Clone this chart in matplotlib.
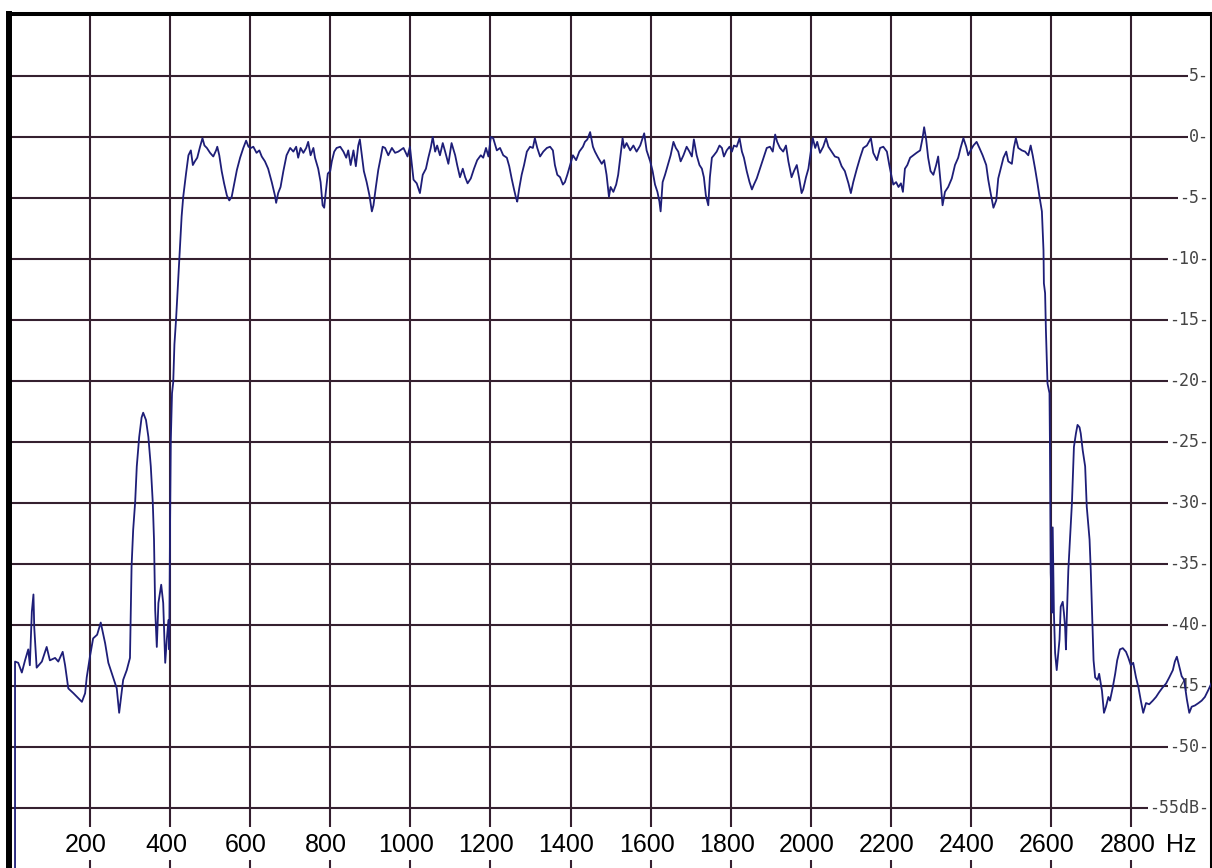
import numpy as np
import matplotlib.pyplot as plt

# Frequency response of an SSB filter (Hz vs dB)

# low stopband + lower skirt
low_hz = [13, 13, 21, 30, 38, 46, 50, 55, 59, 61, 67, 80, 92, 100, 113, 121, 132, 138, 146, 159,
          171, 180, 188, 192, 200, 208, 218, 227, 238, 246, 258, 267, 273, 283, 292, 300, 302, 304,
          308, 313, 317, 323, 329, 333, 340, 346, 352, 357, 360, 363, 367, 371, 378, 383, 388, 392,
          396, 398, 400, 402, 405, 408, 411, 415, 420, 425, 429, 433]
low_db = [-60.0, -43.0, -43.1, -43.9, -42.9, -42.0, -43.3, -38.9, -37.5, -40.2, -43.5, -43.0, -41.8,
          -42.9, -42.7, -43.0, -42.2, -43.3, -45.2, -45.6, -46.0, -46.3, -45.6, -44.3, -42.6, -41.1,
          -40.8, -39.8, -41.5, -43.1, -44.3, -45.2, -47.2, -44.5, -43.7, -42.7, -39.0, -35.2, -32.2,
          -29.9, -27.0, -24.6, -23.0, -22.6, -23.2, -24.6, -27.0, -30.0, -33.0, -38.8, -41.8, -38.2,
          -36.7, -38.2, -43.1, -41.2, -39.6, -42.0, -32.2, -24.8, -21.0, -20.1, -17.0, -15.0, -12.0,
          -9.1, -6.5, -4.9]

# passband
pass_hz = [440, 446, 452, 457, 462, 468, 475, 481, 486, 492, 500, 508, 515, 518, 523, 529, 535, 542,
           548, 554, 560, 567, 575, 583, 590, 596, 602, 608, 616, 623, 629, 637, 645, 654, 662, 665,
           670, 676, 683, 691, 700, 708, 715, 720, 726, 733, 740, 745, 751, 758, 762, 770, 776, 781,
           785, 788, 794, 800, 804, 810, 816, 825, 833, 840, 845, 851, 858, 864, 870, 874, 879, 884,
           891, 898, 904, 908, 914, 920, 926, 931, 937, 945, 954, 962, 970, 983, 993, 999, 1004, 1008,
           1016, 1024, 1031, 1039, 1045, 1051, 1056, 1062, 1067, 1074, 1081, 1087, 1095, 1103, 1112,
           1117, 1124, 1131, 1137, 1143, 1151, 1159, 1167, 1176, 1182, 1189, 1195, 1201, 1207, 1216,
           1224, 1232, 1241, 1247, 1253, 1259, 1264, 1267, 1272, 1278, 1284, 1291, 1299, 1306, 1311,
           1317, 1324, 1332, 1341, 1349, 1356, 1361, 1367, 1374, 1381, 1386, 1392, 1399, 1406, 1414,
           1422, 1431, 1436, 1442, 1449, 1456, 1461, 1469, 1478, 1484, 1490, 1496, 1500, 1507, 1514,
           1519, 1525, 1530, 1534, 1540, 1549, 1557, 1565, 1574, 1584, 1590, 1599, 1605, 1611, 1617,
           1622, 1625, 1630, 1636, 1644, 1650, 1657, 1663, 1669, 1675, 1682, 1690, 1697, 1703, 1708,
           1715, 1722, 1728, 1733, 1738, 1744, 1748, 1753, 1758, 1765, 1772, 1778, 1783, 1790, 1797,
           1803, 1808, 1815, 1822, 1828, 1833, 1840, 1847, 1853, 1858, 1865, 1873, 1882, 1890, 1898,
           1905, 1911, 1916, 1923, 1931, 1938, 1944, 1952, 1958, 1965, 1971, 1977, 1981, 1988, 1994,
           2000, 2005, 2011, 2016, 2023, 2031, 2038, 2044, 2052, 2060, 2069, 2077, 2085, 2094, 2100,
           2106, 2115, 2123, 2131, 2140, 2150, 2156, 2165, 2173, 2181, 2190, 2196, 2202, 2206, 2213,
           2219, 2225, 2230, 2235, 2241, 2248, 2256, 2264, 2273, 2279, 2283, 2288, 2293, 2299, 2306,
           2313, 2318, 2324, 2329, 2335, 2343, 2352, 2360, 2368, 2374, 2381, 2388, 2393, 2399, 2406,
           2414, 2421, 2429, 2438, 2443, 2449, 2456, 2463, 2468, 2474, 2481, 2488, 2493, 2502, 2507,
           2512, 2518, 2527, 2535, 2543, 2549, 2554, 2560, 2566, 2571, 2577, 2581]
pass_db = [-3.0, -1.5, -1.1, -2.3, -2.0, -1.7, -0.8, -0.1, -0.7, -0.9, -1.3, -1.6, -1.1, -0.8, -1.5,
           -2.8, -3.8, -4.8, -5.2, -4.9, -3.9, -2.7, -1.7, -0.9, -0.3, -0.8, -0.9, -0.8, -1.3, -1.1,
           -1.6, -2.0, -2.6, -3.7, -4.8, -5.4, -4.6, -4.1, -2.8, -1.5, -0.9, -1.2, -0.8, -1.7, -0.9,
           -1.3, -0.9, -0.4, -1.5, -0.9, -1.7, -2.6, -3.7, -5.6, -5.8, -4.8, -3.0, -2.8, -2.0, -1.2,
           -0.9, -0.8, -1.2, -1.7, -1.1, -2.3, -1.1, -2.4, -0.7, -0.2, -1.5, -2.8, -3.7, -4.8, -6.1,
           -5.6, -4.1, -2.7, -1.7, -0.8, -0.9, -1.5, -0.9, -1.3, -1.2, -0.9, -1.6, -0.8, -2.3, -3.5,
           -3.8, -4.6, -3.1, -2.6, -1.7, -0.9, 0.0, -1.2, -0.7, -1.5, -0.5, -1.2, -2.2, -0.5, -1.5,
           -2.3, -3.3, -2.6, -3.3, -3.8, -3.4, -2.6, -1.9, -1.5, -1.7, -0.9, -1.6, 0.0, -0.1, -1.1,
           -0.9, -1.5, -1.7, -2.4, -3.4, -4.3, -5.0, -5.3, -4.2, -3.1, -2.3, -1.2, -0.8, -0.9, -0.1,
           -0.9, -1.6, -1.2, -0.9, -0.8, -1.1, -2.3, -3.1, -3.3, -3.9, -3.7, -3.1, -2.3, -1.5, -1.9,
           -1.2, -0.8, -0.4, -0.2, 0.4, -0.8, -1.2, -1.7, -2.2, -1.9, -3.1, -4.9, -4.1, -4.5, -3.9,
           -3.1, -1.5, -0.1, -0.9, -0.5, -1.1, -0.7, -1.2, -0.7, 0.3, -1.1, -2.0, -2.8, -3.9, -4.5,
           -5.3, -6.1, -3.7, -3.1, -2.2, -1.5, -0.4, -0.9, -1.2, -2.0, -1.5, -0.8, -1.2, -1.6, -0.2,
           -1.5, -2.3, -2.6, -3.3, -4.8, -5.6, -3.3, -1.7, -1.5, -1.2, -0.7, -0.9, -1.6, -1.1, -0.8,
           -1.2, -0.7, -0.8, -0.1, -1.2, -1.7, -2.8, -3.7, -4.3, -3.9, -3.4, -2.6, -1.7, -0.9, -0.8,
           -1.2, 0.2, -0.4, -0.9, -1.2, -0.7, -2.0, -3.3, -2.8, -2.3, -3.4, -4.6, -4.3, -3.3, -2.6,
           -1.2, -0.1, -0.9, -0.4, -1.3, -0.8, -0.1, -0.8, -1.2, -1.6, -1.7, -2.4, -2.8, -3.8, -4.6,
           -3.7, -2.6, -1.7, -0.9, -0.7, -0.1, -1.3, -1.9, -0.9, -0.8, -1.2, -2.3, -3.3, -3.9, -3.7,
           -4.1, -3.8, -4.5, -2.6, -2.3, -1.7, -1.5, -1.3, -1.1, -0.1, 0.8, -0.2, -1.7, -2.8, -3.1,
           -2.3, -1.6, -3.7, -5.6, -4.5, -4.1, -3.4, -2.3, -1.7, -0.9, -0.1, -0.8, -1.5, -1.1, -0.7,
           -0.4, -0.9, -1.5, -2.3, -3.5, -4.6, -5.8, -5.2, -3.4, -2.6, -1.7, -1.2, -2.0, -2.2, -0.9,
           -0.1, -0.9, -1.1, -1.2, -1.5, -0.7, -1.5, -2.6, -3.8, -4.9, -6.1, -9.3]

# upper skirt + high stopband
high_hz = [2582, 2585, 2587, 2591, 2596, 2597, 2599, 2602, 2604, 2607, 2610, 2614, 2618, 2621, 2624,
           2629, 2632, 2635, 2637, 2639, 2643, 2647, 2652, 2654, 2657, 2662, 2666, 2671, 2674, 2679,
           2685, 2689, 2696, 2699, 2702, 2706, 2710, 2716, 2720, 2727, 2732, 2737, 2743, 2747, 2754,
           2760, 2765, 2772, 2779, 2787, 2793, 2799, 2805, 2812, 2818, 2824, 2830, 2837, 2845, 2854,
           2862, 2870, 2879, 2887, 2895, 2904, 2909, 2914, 2920, 2926, 2932, 2939, 2945, 2951, 2959,
           2968, 2976, 2984, 2993, 3000]
high_db = [-12.0, -12.8, -15.8, -20.2, -21.0, -24.8, -35.7, -39.0, -32.0, -39.0, -42.3, -43.7, -42.3,
           -41.2, -38.5, -38.1, -39.0, -40.2, -42.0, -39.6, -35.5, -33.0, -30.0, -28.1, -25.4, -24.3,
           -23.6, -23.8, -24.3, -25.7, -27.0, -30.3, -33.0, -35.5, -38.8, -42.9, -44.3, -44.5, -44.0,
           -45.4, -47.2, -46.7, -45.9, -46.2, -45.1, -44.0, -42.9, -42.0, -41.9, -42.2, -42.7, -43.3,
           -43.1, -44.3, -45.1, -46.2, -47.2, -46.4, -46.5, -46.2, -45.9, -45.5, -45.1, -44.8, -44.3,
           -43.7, -43.0, -42.6, -43.4, -44.2, -44.5, -46.1, -47.2, -46.7, -46.6, -46.4, -46.2, -45.9,
           -45.3, -44.8]

x_ticks = [200, 400, 600, 800, 1000, 1200, 1400, 1600, 1800, 2000, 2200, 2400, 2600, 2800]
y_ticks = [5, 0, -5, -10, -15, -20, -25, -30, -35, -40, -45, -50, -55]

freq = np.array(low_hz + pass_hz + high_hz)
level = np.array(low_db + pass_db + high_db)

grid_col = '#35202f'

fig = plt.figure(figsize=(12.12, 8.68), dpi=100)
ax = fig.add_axes([8.5 / 1212, 0, 1202 / 1212, 854 / 868])
ax.set_xlim(-3.3, 2998)
ax.set_ylim(-59.92, 10.08)
ax.set_xticks([])
ax.set_yticks([])

# frame: heavy black on top/left/right, nothing at the bottom
ax.spines['bottom'].set_visible(False)
ax.spines['left'].set_linewidth(4.3)
ax.spines['top'].set_linewidth(2.9)
ax.spines['right'].set_linewidth(2.2)

# grid
ax.hlines(y_ticks, -3.3, 2998, color=grid_col, lw=1.5, zorder=1)
ax.vlines(x_ticks, -56.6, 10.08, color=grid_col, lw=1.5, zorder=1)
# short tick marks under the frequency labels
ax.vlines(x_ticks, -59.92, -59.3, color=grid_col, lw=1.5, zorder=1)

# dB labels on the right, over the grid lines
for v in y_ticks:
    if v == -55:
        lab = f'{v}dB-'
    else:
        lab = f'{v}-'
    ax.text(2994, v, lab, ha='right', va='center', fontsize=12, color='#444444',
            family='DejaVu Sans Mono', zorder=2,
            bbox=dict(facecolor='white', edgecolor='none', pad=1))

# frequency labels along the bottom
for v in x_ticks:
    ax.text(v - 10, -58.6, str(v), ha='center', va='baseline', fontsize=18,
            family='Liberation Sans', color='black')
ax.text(2888, -58.6, 'Hz', ha='left', va='baseline', fontsize=18,
        family='Liberation Sans', color='black')

ax.plot(freq, level, color='#1e1e78', lw=1.3, zorder=3)

fig.savefig('out.png', dpi=100)
